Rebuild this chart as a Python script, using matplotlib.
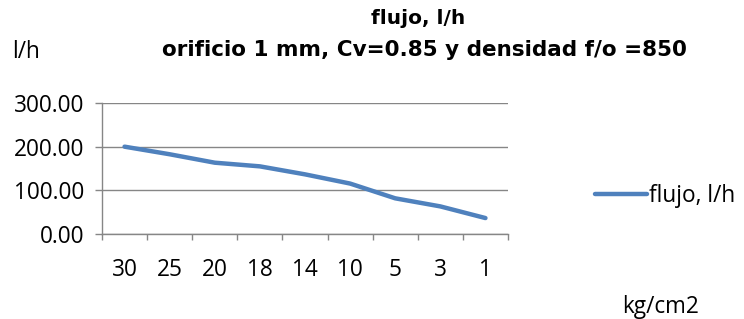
import matplotlib
matplotlib.use("Agg")
import matplotlib.pyplot as plt

categories = ["30", "25", "20", "18", "14", "10", "5", "3", "1"]
flujo = [200.0, 182.6, 163.3, 154.9, 136.6, 115.5, 81.7, 63.2, 36.5]
y_ticks = [0, 100, 200, 300]
y_tick_labels = ["0.00", "100.00", "200.00", "300.00"]

W, H = 744, 319
fig = plt.figure(figsize=(W / 100, H / 100), dpi=100)
ax = fig.add_axes([102 / W, 1 - 234 / H, (508 - 102) / W, (234 - 103) / H])

base_font = "Open Sans"
fs = 16.3
grey = "#868686"

x = list(range(len(categories)))
ax.plot(x, flujo, color="#4F81BD", lw=3.2, solid_capstyle="round",
        solid_joinstyle="round", label="flujo, l/h")

ax.set_xlim(-0.5, len(categories) - 0.5)
ax.set_ylim(0, 300)
ax.set_yticks(y_ticks)
ax.set_yticklabels(y_tick_labels, fontname=base_font, fontsize=fs)
ax.set_xticks(x)
ax.set_xticklabels(categories, fontname=base_font, fontsize=fs)
ax.tick_params(axis="x", length=0, pad=17)
ax.set_xticks([i - 0.5 for i in range(len(categories) + 1)], minor=True)
ax.tick_params(axis="x", which="minor", length=4.5, color=grey, width=1)
ax.tick_params(axis="y", length=5, color=grey, width=1, pad=8)

ax.grid(axis="y", color=grey, lw=1)
ax.set_axisbelow(True)
for s in ["top", "right"]:
    ax.spines[s].set_visible(False)
for s in ["left", "bottom"]:
    ax.spines[s].set_color(grey)
    ax.spines[s].set_linewidth(1)

fig.text(418 / W, 1 - 18 / H, "flujo, l/h", ha="center", va="center",
         fontname="DejaVu Sans", fontweight="bold", fontsize=14.5)
fig.text(424 / W, 1 - 50 / H, "orificio 1 mm, Cv=0.85 y densidad f/o =850",
         ha="center", va="center", fontname="DejaVu Sans", fontweight="bold", fontsize=15.5)
fig.text(12 / W, 1 - 58 / H, "l/h", ha="left", va="baseline",
         fontname=base_font, fontsize=fs)
fig.text(661 / W, 1 - 313 / H, "kg/cm2", ha="center", va="baseline",
         fontname=base_font, fontsize=fs)

leg = fig.legend(loc="center left", bbox_to_anchor=(595 / W, 1 - 196 / H),
                 frameon=False, prop={"family": base_font, "size": fs},
                 handlelength=2.3, handletextpad=0.1, borderaxespad=0, borderpad=0)

fig.savefig("out.png", dpi=100)
